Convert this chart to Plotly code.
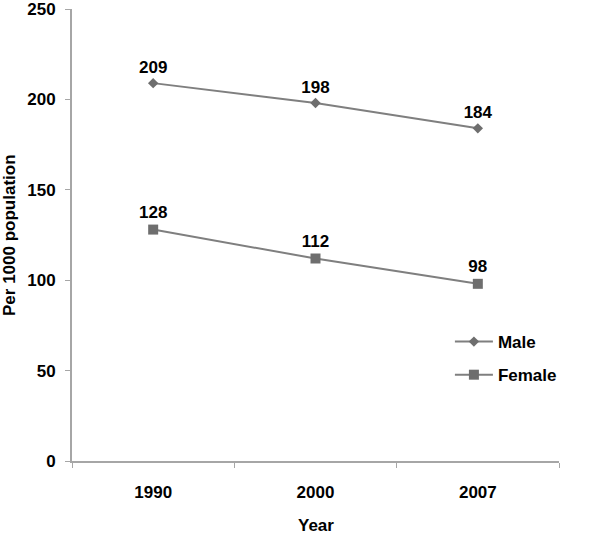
import plotly.graph_objects as go

years = ["1990", "2000", "2007"]
male = [209, 198, 184]
female = [128, 112, 98]

font_family = "Liberation Sans, Arial, sans-serif"
grey_line = "#7f7f7f"
grey_marker = "#6e6e6e"
axis_grey = "#a6a6a6"
FS = 17

fig = go.Figure()
fig.add_trace(go.Scatter(
    x=years, y=male, name="Male", mode="lines+markers+text", legendgroup="m",
    line=dict(color=grey_line, width=2),
    marker=dict(symbol="diamond", size=8, color=grey_marker),
    text=[str(v) for v in male], textposition="top center",
    textfont=dict(family=font_family, size=FS, color="black", weight="bold"),
))
fig.add_trace(go.Scatter(
    x=years, y=female, name="Female", mode="lines+markers+text", legendgroup="f",
    line=dict(color=grey_line, width=2),
    marker=dict(symbol="square", size=10, color=grey_marker),
    text=[str(v) for v in female], textposition="top center",
    textfont=dict(family=font_family, size=FS, color="black", weight="bold"),
))

fig.update_layout(
    width=600, height=534,
    margin=dict(l=72, r=41, t=9, b=73, autoexpand=False),
    paper_bgcolor="white", plot_bgcolor="white",
    font=dict(family=font_family, size=FS, color="black"),
    showlegend=True,
    legend=dict(
        x=0.776, y=0.303, xanchor="left", yanchor="top",
        font=dict(family=font_family, size=FS, color="black", weight="bold"),
        bgcolor="rgba(0,0,0,0)", itemwidth=38, tracegroupgap=8,
    ),
    xaxis=dict(
        type="category", range=[-0.5, 2.5], automargin=False,
        showline=True, linecolor=axis_grey, linewidth=2,
        ticks="outside", tickson="boundaries", ticklen=5, tickcolor=axis_grey,
        showgrid=False, zeroline=False, ticklabelstandoff=15,
        tickfont=dict(family=font_family, size=FS, color="black", weight="bold"),
    ),
    yaxis=dict(
        range=[0, 250], tickvals=[0, 50, 100, 150, 200, 250], automargin=False,
        showline=True, linecolor=axis_grey, linewidth=2,
        ticks="outside", ticklen=5, tickcolor=axis_grey,
        showgrid=False, zeroline=False, ticklabelstandoff=6,
        ticklabeloverflow="allow",
        tickfont=dict(family=font_family, size=FS, color="black", weight="bold"),
    ),
    annotations=[
        dict(text="<b>Year</b>", xref="paper", yref="paper", x=0.5, y=(461 - 525) / 452,
             xanchor="center", yanchor="middle", showarrow=False,
             font=dict(family=font_family, size=FS, color="black")),
        dict(text="<b>Per 1000 population</b>", xref="paper", yref="paper",
             x=(9 - 72) / 487, y=0.5, textangle=-90,
             xanchor="center", yanchor="middle", showarrow=False,
             font=dict(family=font_family, size=FS, color="black")),
    ],
)

fig.write_html("out.html", config={"displayModeBar": False},
               post_script="document.body.style.margin='0';")
